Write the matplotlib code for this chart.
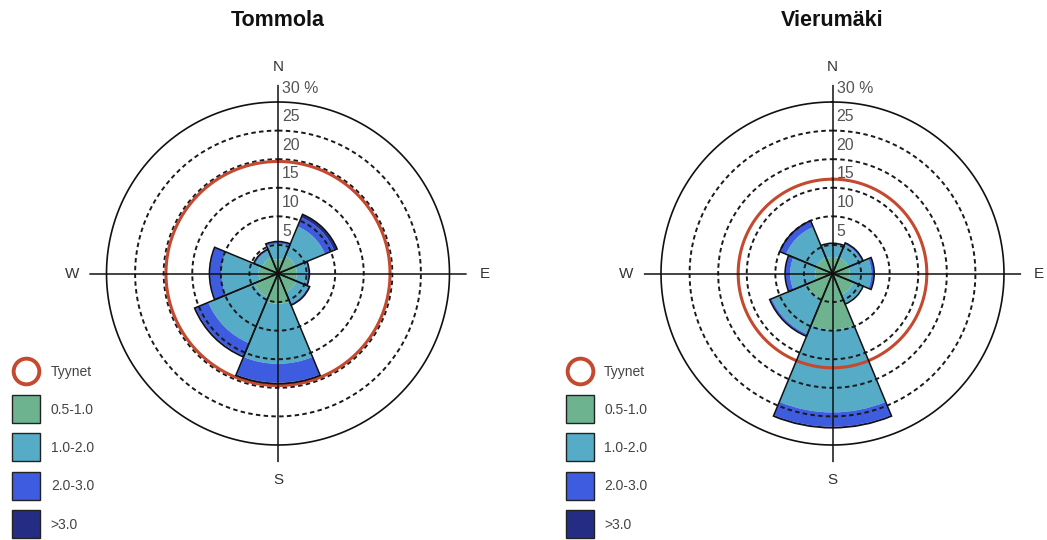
import numpy as np
import matplotlib.pyplot as plt
from matplotlib.lines import Line2D

plt.rcParams['font.family'] = ['Liberation Sans', 'DejaVu Sans']

directions = ['N', 'NE', 'E', 'SE', 'S', 'SW', 'W', 'NW']
speed_classes = ['0.5-1.0', '1.0-2.0', '2.0-3.0', '>3.0']
class_colors = ['#6db38f', '#56abc6', '#3e5ce0', '#252c84']
calm_color = '#c4492f'

# Tommola: osuus (%) suunnittain, tuulen nopeusluokat m/s
tommola_05_10 = [2.5, 3.3, 3.3, 3.5, 5.3, 4.5, 3.4, 3.0]
tommola_10_20 = [2.7, 5.6, 1.9, 2.2, 10.5, 8.7, 6.5, 1.3]
tommola_20_30 = [0.4, 1.7, 0.3, 0.3, 3.3, 2.4, 2.1, 0.3]
tommola_yli_30 = [0.0, 0.6, 0.0, 0.0, 0.2, 0.2, 0.0, 0.0]
tommola_tyynet = 19.6

# Vierumäki
vierumaki_05_10 = [2.9, 3.0, 3.0, 4.0, 9.8, 5.0, 3.0, 3.0]
vierumaki_10_20 = [2.4, 2.5, 3.8, 1.8, 14.5, 6.5, 4.4, 5.8]
vierumaki_20_30 = [0.0, 0.3, 0.5, 0.0, 2.5, 0.4, 0.9, 1.2]
vierumaki_yli_30 = [0.0, 0.0, 0.0, 0.0, 0.2, 0.0, 0.0, 0.0]
vierumaki_tyynet = 16.5

ring_values = [5, 10, 15, 20, 25]
r_outer = 30
r_max = 33

W, H = 1047, 540
px_per_pct = 171.5 / 30
R = r_max * px_per_pct

fig = plt.figure(figsize=(W / 100, H / 100), dpi=100)


def draw_rose(cx, cy, title, bands, calm):
    ax = fig.add_axes([(cx - R) / W, (H - cy - R) / H, 2 * R / W, 2 * R / H],
                      projection='polar')
    ax.set_theta_zero_location('N')
    ax.set_theta_direction(-1)
    ax.set_ylim(0, r_max)
    ax.axis('off')

    theta = np.deg2rad(np.arange(len(directions)) * 45)
    width = np.deg2rad(45)
    bottom = np.zeros(len(directions))
    for vals, col in zip(bands, class_colors):
        vals = np.array(vals)
        ax.bar(theta, vals, width=width, bottom=bottom, color=col,
               edgecolor='none', linewidth=0, zorder=2)
        bottom = bottom + vals
    # sektorien ääriviivat
    ax.bar(theta, bottom, width=width, fill=False, edgecolor='#111111',
           linewidth=1.1, zorder=5)

    t = np.linspace(0, 2 * np.pi, 400)
    for v in ring_values:
        ax.plot(t, np.full_like(t, v), color='#1a1a1a', lw=1.4,
                dashes=(2.3, 1.7), zorder=3)
    ax.plot(t, np.full_like(t, r_outer), color='#111111', lw=1.2, zorder=3)
    ax.plot(t, np.full_like(t, calm), color=calm_color, lw=2.2, zorder=4)

    for d in range(4):
        a = np.deg2rad(d * 90)
        ax.plot([a, a], [0, r_max], color='#111111', lw=1.1, zorder=6)

    for v in ring_values + [r_outer]:
        txt = f'{v} %' if v == r_outer else f'{v}'
        ax.annotate(txt, xy=(0, v), xytext=(3, 10), textcoords='offset points',
                    ha='left', va='center', fontsize=11.4, color='#555555',
                    zorder=7)

    for lab, ang in zip(['N', 'E', 'S', 'W'], [0, 90, 180, 270]):
        ax.text(np.deg2rad(ang), 36.1, lab, ha='center', va='center',
                fontsize=11, color='#333333')

    fig.text(cx / W, 1 - 20 / H, title, ha='center', va='center',
             fontsize=15.5, fontweight='bold', color='#111111')


def draw_legend(x_left, y_top):
    handles = [Line2D([], [], linestyle='none', marker='o', markersize=18.5,
                      markerfacecolor='white', markeredgecolor=calm_color,
                      markeredgewidth=2.8)]
    for col in class_colors:
        handles.append(Line2D([], [], linestyle='none', marker='s',
                              markersize=20.5, markerfacecolor=col,
                              markeredgecolor='#222222', markeredgewidth=1.0))
    fig.legend(handles, ['Tyynet'] + speed_classes, loc='upper left',
               bbox_to_anchor=(x_left / W, 1 - y_top / H), frameon=False,
               fontsize=10, handlelength=2.1, labelspacing=1.74,
               handletextpad=0.72, borderpad=0, borderaxespad=0,
               labelcolor='#444444')


draw_rose(278, 273.5, 'Tommola',
          [tommola_05_10, tommola_10_20, tommola_20_30, tommola_yli_30],
          tommola_tyynet)
draw_rose(832.5, 273.5, 'Vierumäki',
          [vierumaki_05_10, vierumaki_10_20, vierumaki_20_30, vierumaki_yli_30],
          vierumaki_tyynet)

draw_legend(11.7, 365)
draw_legend(565, 365)

fig.savefig('out.png', dpi=100)
